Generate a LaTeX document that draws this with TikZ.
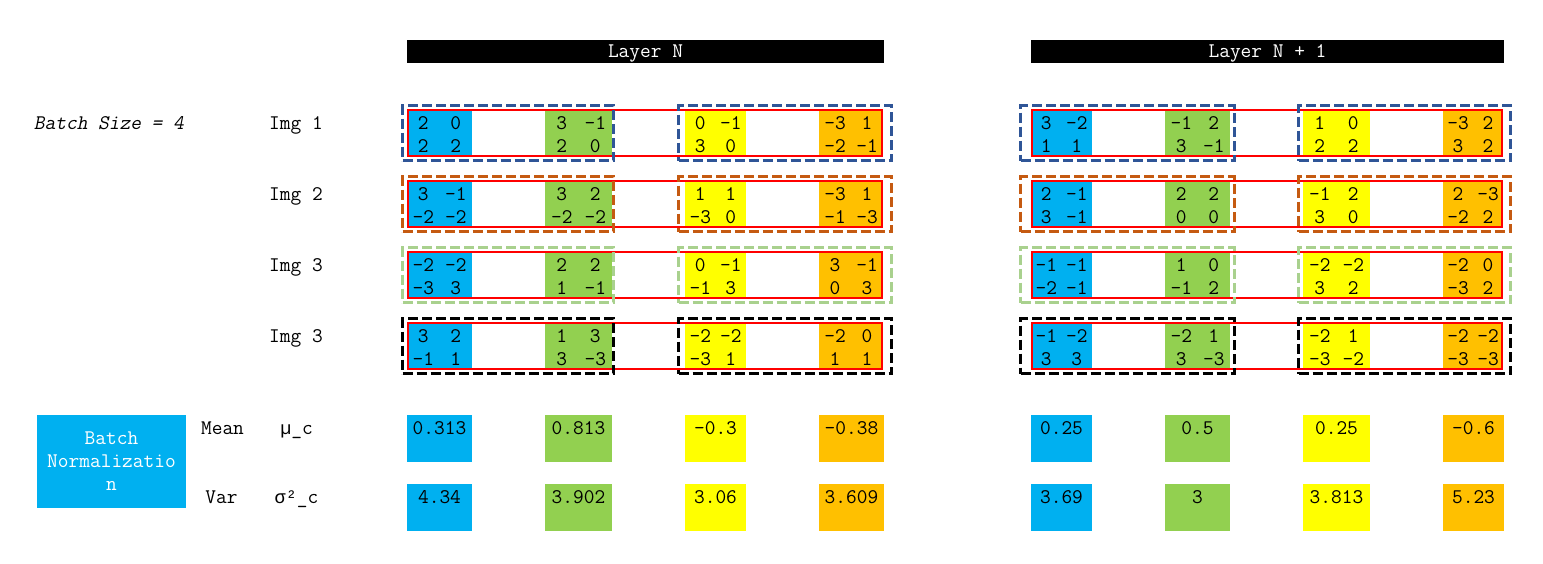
\documentclass[tikz,border=0pt]{standalone}
\usepackage{fontspec}
\newfontfamily\grk{Liberation Mono}
\definecolor{cblue}{HTML}{00B0F0}
\definecolor{cgreen}{HTML}{92D050}
\definecolor{cyellow}{HTML}{FFFF00}
\definecolor{corange}{HTML}{FFC000}
\definecolor{dblue}{HTML}{2F5597}
\definecolor{dorange}{HTML}{C55A11}
\definecolor{dgreen}{HTML}{A9D18E}
\newcommand\fnt{\fontsize{20.8}{23}\ttfamily\selectfont}
\tikzset{
  txt/.style={font=\fnt, inner sep=0pt, text height=11pt, text depth=0pt},
  boxfill/.style={draw=none, inner sep=0pt, outer sep=0pt},
  redbox/.style={draw=red, line width=2pt, inner sep=0pt, minimum height=46pt},
  dashbox/.style={line width=3pt, dash pattern=on 10pt off 4pt, inner sep=0pt, minimum height=55pt},
  header/.style={fill=black, text=white, txt, minimum height=23pt},
}
\newcommand\mkcell[9]{%
  \pgfmathsetmacro\cx{(#2+#3)/2}%
  \pgfmathsetmacro\cw{#3-#2}%
  \pgfmathsetmacro\qa{#2+(#3-#2)/4}%
  \pgfmathsetmacro\qb{#2+3*(#3-#2)/4}%
  \node[boxfill, fill=#5, minimum width=\cw pt, minimum height=46pt] (#1) at (\cx,#4+23) {};
  \node[txt] (#1a) at (\qa,#4+13.5) {#6};
  \node[txt] (#1b) at (\qb,#4+13.5) {#7};
  \node[txt] (#1c) at (\qa,#4+36.5) {#8};
  \node[txt] (#1d) at (\qb,#4+36.5) {#9};
}
\newcommand\mkstat[6]{%
  \pgfmathsetmacro\cx{(#2+#3)/2}%
  \pgfmathsetmacro\cw{#3-#2}%
  \node[boxfill, fill=#5, minimum width=\cw pt, minimum height=47pt] (#1) at (\cx,#4+23.5) {};
  \node[txt] (#1t) at (\cx,#4+13.5) {#6};
}
\begin{document}
\begin{tikzpicture}[x=1pt,y=-1pt]
\useasboundingbox (0,0) rectangle (1543,563);

% headers
\node[header, minimum width=477pt] (hN) at (645.5,51.5) {Layer N};
\node[header, minimum width=473pt] (hN1) at (1267.5,51.5) {Layer N + 1};

% left labels
\begin{scope}[shift={(110,123.5)}, xslant=0.2]
  \node[txt, transform shape] (bs) at (0,0) {Batch Size = 4};
\end{scope}
\node[txt] (img1) at (296,123.5) {Img 1};
\node[txt] (img2) at (296,194.5) {Img 2};
\node[txt] (img3) at (296,265.5) {Img 3};
\node[txt] (img4) at (296,336.5) {Img 3};

% ---------- Layer N cells ----------
\mkcell{a1b}{407}{472}{110}{cblue}{2}{0}{2}{2}
\mkcell{a1g}{545}{612}{110}{cgreen}{3}{-1}{2}{0}
\mkcell{a1y}{685}{746}{110}{cyellow}{0}{-1}{3}{0}
\mkcell{a1o}{819}{883}{110}{corange}{-3}{1}{-2}{-1}
\mkcell{a2b}{407}{472}{181}{cblue}{3}{-1}{-2}{-2}
\mkcell{a2g}{545}{612}{181}{cgreen}{3}{2}{-2}{-2}
\mkcell{a2y}{685}{746}{181}{cyellow}{1}{1}{-3}{0}
\mkcell{a2o}{819}{883}{181}{corange}{-3}{1}{-1}{-3}
\mkcell{a3b}{407}{472}{252}{cblue}{-2}{-2}{-3}{3}
\mkcell{a3g}{545}{612}{252}{cgreen}{2}{2}{1}{-1}
\mkcell{a3y}{685}{746}{252}{cyellow}{0}{-1}{-1}{3}
\mkcell{a3o}{819}{883}{252}{corange}{3}{-1}{0}{3}
\mkcell{a4b}{407}{472}{323}{cblue}{3}{2}{-1}{1}
\mkcell{a4g}{545}{612}{323}{cgreen}{1}{3}{3}{-3}
\mkcell{a4y}{685}{746}{323}{cyellow}{-2}{-2}{-3}{1}
\mkcell{a4o}{819}{883}{323}{corange}{-2}{0}{1}{1}

% ---------- Layer N+1 cells ----------
\mkcell{b1b}{1031}{1092}{110}{cblue}{3}{-2}{1}{1}
\mkcell{b1g}{1165}{1230}{110}{cgreen}{-1}{2}{3}{-1}
\mkcell{b1y}{1303}{1370}{110}{cyellow}{1}{0}{2}{2}
\mkcell{b1o}{1443}{1503}{110}{corange}{-3}{2}{3}{2}
\mkcell{b2b}{1031}{1092}{181}{cblue}{2}{-1}{3}{-1}
\mkcell{b2g}{1165}{1230}{181}{cgreen}{2}{2}{0}{0}
\mkcell{b2y}{1303}{1370}{181}{cyellow}{-1}{2}{3}{0}
\mkcell{b2o}{1443}{1503}{181}{corange}{2}{-3}{-2}{2}
\mkcell{b3b}{1031}{1092}{252}{cblue}{-1}{-1}{-2}{-1}
\mkcell{b3g}{1165}{1230}{252}{cgreen}{1}{0}{-1}{2}
\mkcell{b3y}{1303}{1370}{252}{cyellow}{-2}{-2}{3}{2}
\mkcell{b3o}{1443}{1503}{252}{corange}{-2}{0}{-3}{2}
\mkcell{b4b}{1031}{1092}{323}{cblue}{-1}{-2}{3}{3}
\mkcell{b4g}{1165}{1230}{323}{cgreen}{-2}{1}{3}{-3}
\mkcell{b4y}{1303}{1370}{323}{cyellow}{-2}{1}{-3}{-2}
\mkcell{b4o}{1443}{1503}{323}{corange}{-2}{-2}{-3}{-3}

% red row frames
\foreach \r/\t in {1/110,2/181,3/252,4/323}{
  \node[redbox, minimum width=474pt] (ra\r) at (645,\t+23) {};
  \node[redbox, minimum width=470pt] (rb\r) at (1267,\t+23) {};
}

% dashed channel groups
\foreach \r/\t/\c in {1/110/dblue,2/181/dorange,3/252/dgreen,4/323/black}{
  \node[dashbox, draw=\c, minimum width=211pt] (dal\r) at (508,\t+23) {};
  \node[dashbox, draw=\c, minimum width=213pt] (dar\r) at (785,\t+23) {};
  \node[dashbox, draw=\c, minimum width=214pt] (dbl\r) at (1127.5,\t+23) {};
  \node[dashbox, draw=\c, minimum width=212pt] (dbr\r) at (1404.5,\t+23) {};
}

% batch normalization
\node[boxfill, fill=cblue, text=white, font=\fnt, align=center, minimum width=149pt, minimum height=93pt] (bn) at (111.5,461.5) {Batch\\Normalizatio\\n};
\node[txt] (mean) at (222.5,428.5) {Mean};
\node[txt] (mu) at (296.5,428.5) {{\grk\fontsize{18.4}{23}\selectfont µ}\_c};
\node[txt] (var) at (221.5,497.5) {Var};
\node[txt] (sig) at (296.5,497.5) {{\grk\fontsize{18.4}{23}\selectfont σ²}\_c};

% means and variances
\mkstat{ma1}{407}{472}{415}{cblue}{0.313}
\mkstat{ma2}{545}{612}{415}{cgreen}{0.813}
\mkstat{ma3}{685}{746}{415}{cyellow}{-0.3}
\mkstat{ma4}{819}{884}{415}{corange}{-0.38}
\mkstat{va1}{407}{472}{484}{cblue}{4.34}
\mkstat{va2}{545}{612}{484}{cgreen}{3.902}
\mkstat{va3}{685}{746}{484}{cyellow}{3.06}
\mkstat{va4}{819}{884}{484}{corange}{3.609}
\mkstat{mb1}{1031}{1092}{415}{cblue}{0.25}
\mkstat{mb2}{1165}{1230}{415}{cgreen}{0.5}
\mkstat{mb3}{1303}{1370}{415}{cyellow}{0.25}
\mkstat{mb4}{1443}{1504}{415}{corange}{-0.6}
\mkstat{vb1}{1031}{1092}{484}{cblue}{3.69}
\mkstat{vb2}{1165}{1230}{484}{cgreen}{3}
\mkstat{vb3}{1303}{1370}{484}{cyellow}{3.813}
\mkstat{vb4}{1443}{1504}{484}{corange}{5.23}
\end{tikzpicture}
\end{document}
